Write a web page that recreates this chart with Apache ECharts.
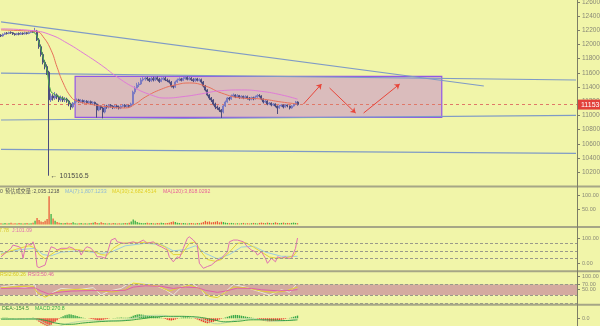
<!DOCTYPE html>
<html><head><meta charset="utf-8">
<script src="https://cdn.jsdelivr.net/npm/echarts@6/dist/echarts.min.js"></script>
<style>html,body{margin:0;padding:0;background:#f1f5a9;}#c{width:600px;height:326px;}</style>
</head><body><div id="c"></div>
<script>
const slotCount = 288;
const categories = Array.from({length: slotCount}, (_, i) => 'T' + i);
// [open, close, low, high]
const candles = [
[121300,121200,121050,121450],[121200,121450,121100,121550],[121450,121600,121350,121700],[121600,121550,121400,121750],
[121550,121700,121450,121800],[121700,121650,121500,121850],[121650,121500,121350,121750],[121500,121400,121250,121600],
[121400,121550,121300,121650],[121550,121450,121300,121700],[121450,121600,121350,121750],[121600,121500,121350,121700],
[121500,121650,121400,121800],[121650,121550,121400,121750],[121550,121700,121450,121850],[121700,121850,121600,121950],
[121850,121800,121650,122000],[121800,121900,121700,122350],[121900,120650,120500,122050],[120650,119700,119400,120900],
[119700,118600,118300,120000],[118600,117500,117200,118900],[117500,116900,116500,117800],[116900,116100,115700,117200],
[116100,112200,101516.5,116300],[112200,112750,111900,113100],[112750,112460,112100,113000],[112460,112900,112200,113300],
[112900,112600,112300,113100],[112600,112200,111900,112800],[112200,112460,111950,112800],[112460,112200,111900,112700],
[112200,112300,111900,112600],[112300,112040,111800,112500],[112040,111620,111300,112200],[111620,111200,110800,111800],
[111200,111760,111000,111900],[111760,112040,111600,112300],[112040,112200,111850,112400],[112200,111950,111800,112350],
[111950,112100,111800,112300],[112100,111900,111700,112250],[111900,112000,111700,112200],[112000,111800,111600,112150],
[111800,111950,111650,112100],[111950,111750,111550,112100],[111750,111850,111500,112000],[111850,111620,111400,111950],
[111620,110770,109700,111700],[110770,111340,110600,111500],[111340,111060,110800,111400],[111060,110490,109600,111200],
[110490,111340,110300,111500],[111340,111200,110950,111500],[111200,111450,111000,111600],[111450,111300,111100,111600],
[111300,111100,110900,111450],[111100,111350,110950,111500],[111350,111200,111000,111500],[111200,111060,110850,111400],
[111060,111300,110900,111450],[111300,111450,111150,111600],[111450,111250,111100,111600],[111250,111400,111100,111550],
[111400,111300,111100,111500],[111300,111620,111200,111800],[111620,113300,111500,113500],[113300,113870,113000,114100],
[113870,114300,113700,114600],[114300,114440,114000,114700],[114440,115000,114300,115300],[115000,115140,114800,115400],
[115140,115280,114900,115550],[115280,115140,114900,115450],[115140,114900,114700,115300],[114900,115200,114750,115450],
[115200,115000,114800,115450],[115000,115300,114850,115550],[115300,115100,114900,115500],[115100,114800,114600,115300],
[114800,115100,114700,115350],[115100,115250,114950,115500],[115250,115000,114850,115450],[115000,114900,114700,115200],
[114900,114700,114500,115050],[114700,114150,113950,114850],[114150,114010,113800,114300],[114010,114720,113900,114900],
[114720,115000,114600,115200],[115000,115150,114850,115350],[115150,114950,114800,115300],[114950,115200,114850,115400],
[115200,115350,115050,115550],[115350,115100,114950,115500],[115100,115250,114950,115450],[115250,115050,114850,115400],
[115050,114900,114700,115250],[114900,115150,114750,115300],[115150,114950,114800,115300],[114950,115050,114800,115250],
[115050,114720,114500,115200],[114720,114150,113950,114850],[114150,113590,113400,114300],[113590,112890,112700,113700],
[112890,112460,112200,113000],[112460,112180,111900,112600],[112180,111620,111400,112300],[111620,111200,110900,111800],
[111200,111060,110800,111400],[111060,110770,110500,111200],[110770,110490,109660,110900],[110490,111340,110300,111500],
[111340,111900,111200,112100],[111900,112460,111800,112600],[112460,112320,112100,112600],[112320,112750,112200,112950],
[112750,112890,112600,113100],[112890,112650,112450,113000],[112650,112800,112500,113000],[112800,112550,112350,112900],
[112550,112700,112400,112850],[112700,112500,112300,112800],[112500,112650,112350,112850],[112650,112450,112250,112800],
[112450,112300,112100,112600],[112300,112500,112150,112650],[112500,112350,112150,112650],[112350,112600,112250,112800],
[112600,112800,112500,113000],[112800,112750,112550,113000],[112750,112320,112150,112850],[112320,111900,111700,112400],
[111900,112040,111750,112200],[112040,111620,111450,112150],[111620,111760,111500,111900],[111760,111480,111300,111850],
[111480,111620,111350,111750],[111620,111340,111150,111700],[111340,111060,110210,111400],[111060,111340,110950,111500],
[111340,111480,111200,111600],[111480,111200,111000,111550],[111200,111480,111100,111600],[111480,111340,111150,111550],
[111340,111060,110850,111400],[111060,111340,110950,111450],[111340,111620,111250,111750],[111620,111900,111500,112050],
[111900,111536,111400,112000]
];
const lastPrice = 111536;
const crashLow = 101516.5;
const crashIndex = 24;
// moving averages, [index, price]
const maGreen = [[16,121750],[17,121600],[18,121200],[20,119300],[22,117200],[23,116400],[24,114300],[25,113300],[27,112900],[30,112500],[33,112200],[35,111400]];
const maRed = [[0,122060],[10,121950],[18,121800],[21,121100],[25,119200],[28,116800],[31,114600],[35,112600],[38,112040],[44,111620],[54,111200],[62,111060],[67,111620],[72,112600],[80,113700],[87,114300],[94,114580],[102,114150],[110,113170],[120,112460],[130,112320],[140,111900],[148,111620]];
const maPink = [[0,122200],[16,121950],[25,121340],[33,120200],[41,118800],[50,117110],[58,115420],[66,114010],[75,112890],[82,112460],[92,112700],[100,113050],[110,113500],[120,113600],[130,113400],[140,112900],[148,112300]];
// trend lines [index, price]
const trendA = [[0,123197],[241,114155]];
const trendB = [[0,115958],[287,115000]];
const trendC = [[0,109366],[287,110028]];
const trendD = [[0,105239],[287,104676]];
const boxCorners = [[36.5,115521],[219.5,109746]];
const arrows = [
  [[151,111620],[159.5,114437]],
  [[163.5,113873],[177,110352]],
  [[180.5,110352],[198.5,114437]]
];
const priceTicks = [102000,104000,106000,108000,110000,112000,114000,116000,118000,120000,122000,124000,126000];
// volume (thousands)
const volumes = [4,3,5,3,4,6,3,4,3,5,4,3,4,5,3,4,6,
12,22,15,10,8,12,18,96,35,20,12,8,
6,5,4,5,6,4,5,7,4,3,4,5,3,4,3,4,5,6,8,5,4,7,5,4,3,4,3,5,4,3,4,3,4,5,4,6,
10,17,12,8,
6,5,4,5,6,4,5,4,3,5,4,6,5,4,5,6,8,
10,8,6,5,4,5,4,3,4,5,4,3,5,4,
6,8,12,9,10,7,8,9,11,7,9,
8,6,5,4,5,4,3,4,3,4,5,3,4,3,4,5,4,3,5,6,5,4,6,5,4,5,7,5,4,5,6,4,5,4,5,6,5,4];
const volTicks = [50,100];
const volCurrent = 2.035;
// KDJ [index, value]
const kdjJ = [[0,26],[2,40],[5,60],[6,73],[9,66],[10,60],[11,20],[12,60],[13,80],[15,73],[16,86],[17,60],[18,-13],[19,-17],[22,-7],[23,20],[24,46],[25,66],[27,60],[28,53],[30,60],[33,60],[34,66],[36,60],[38,46],[39,53],[40,33],[42,60],[43,66],[45,60],[47,40],[48,26],[50,26],[52,20],[53,40],[55,93],[57,100],[58,86],[61,80],[63,80],[66,86],[68,80],[71,93],[73,80],[76,86],[78,73],[80,66],[83,53],[84,26],[86,6],[88,26],[89,20],[91,60],[93,100],[94,106],[96,93],[98,73],[99,0],[101,-20],[103,-13],[105,-7],[108,13],[110,20],[113,46],[114,86],[116,93],[118,93],[121,86],[123,66],[125,53],[127,46],[128,33],[130,46],[132,20],[133,0],[135,20],[137,6],[138,26],[140,20],[142,26],[143,20],[145,20],[147,60],[148,101.09]];
const kdjK = [[0,35],[5,50],[10,62],[14,70],[17,62],[19,35],[22,18],[25,35],[28,52],[33,58],[38,55],[42,50],[46,48],[50,35],[53,32],[56,60],[60,80],[66,82],[72,84],[78,80],[82,65],[86,35],[90,35],[94,80],[97,85],[100,45],[103,15],[107,8],[110,15],[114,45],[118,80],[122,83],[126,65],[130,45],[134,25],[138,20],[142,22],[146,30],[148,52.22]];
const kdjD = [[0,40],[10,55],[17,60],[21,35],[25,30],[30,45],[40,50],[50,40],[55,45],[62,70],[72,80],[80,75],[86,50],[92,55],[97,70],[102,40],[108,18],[114,35],[120,65],[126,68],[132,45],[140,28],[148,27.78]];
const kdjLevels = [80,50,20];
const kdjTicks = [0,100];
// RSI [index, value]
const rsi1 = [[0,60],[6,66],[12,58],[17,70],[18,25],[22,10],[26,40],[30,55],[38,50],[46,58],[50,30],[54,45],[60,55],[66,85],[70,78],[76,70],[82,50],[86,30],[90,60],[95,75],[100,50],[103,15],[107,12],[111,35],[116,70],[122,60],[128,45],[134,30],[140,50],[144,40],[148,75]];
const rsi2 = [[0,58],[8,62],[16,64],[18,40],[22,22],[26,35],[30,48],[40,52],[50,45],[56,42],[62,50],[66,75],[70,72],[78,65],[84,45],[88,55],[94,68],[99,55],[104,25],[108,20],[112,40],[116,60],[122,58],[130,45],[136,40],[142,45],[148,60.26]];
const rsi3 = [[0,55],[10,56],[17,57],[20,45],[24,33],[28,40],[35,45],[45,47],[55,46],[62,48],[66,60],[72,65],[80,63],[86,55],[92,60],[98,58],[102,48],[108,40],[112,45],[118,56],[125,55],[130,50],[138,46],[144,47],[148,50.46]];
const rsiTicks = [30,50,70,100];
// MACD
const macdHist = [40,50,60,50,40,30,20,10,0,-10,-20,-10,0,20,30,40,50,
-50,-200,-350,-500,-600,-700,-800,-800,-650,-500,-350,-200,
-50,100,200,300,350,400,380,330,280,220,160,100,
60,30,0,-30,-60,-100,-150,-200,-220,-200,-150,-100,
-60,-30,0,20,40,50,60,70,60,50,60,80,
150,250,320,380,400,380,350,320,300,280,250,220,180,150,100,60,
-20,-80,-150,-200,-220,-180,-120,-60,
20,60,90,100,90,70,40,10,
-50,-120,-200,-300,-380,-450,-500,-480,-420,-350,-280,-200,
-120,-50,20,80,
150,220,280,320,340,330,300,260,220,180,140,100,70,40,10,
-50,-120,-180,-240,-280,-300,-310,-300,-280,-250,-220,-180,-140,-100,-60,
-10,40,90,150,210,270.8];
const macdDif = [[0,-100],[10,-80],[17,-60],[20,-300],[24,-700],[28,-800],[32,-600],[38,-350],[45,-250],[52,-250],[60,-200],[66,0],[72,250],[80,300],[86,150],[92,200],[98,50],[103,-300],[108,-550],[113,-400],[118,-150],[125,-50],[130,-150],[136,-300],[142,-250],[148,-19]];
const macdDea = [[0,-80],[17,-70],[22,-200],[28,-500],[34,-600],[42,-450],[52,-300],[62,-230],[70,-50],[78,150],[86,200],[94,170],[100,80],[106,-150],[112,-350],[118,-300],[126,-150],[134,-160],[142,-220],[148,-154.5]];
const macdTicks = [0];

const FONT = 'Liberation Sans, Arial, sans-serif';
const CJK = 'Noto Sans CJK SC, sans-serif';
const AX = '#7d7d66';
const LBL = '#8a8a78';
function xax(g){return {type:'category',gridIndex:g,data:categories,show:false,boundaryGap:true};}
function yax(g,min,max,vals,fmt,fs){
  return {type:'value',gridIndex:g,position:'right',min:min,max:max,
    splitLine:{show:false},axisLine:{show:false},
    axisTick:{show:true,length:3,inside:false,customValues:vals,lineStyle:{color:AX,width:1}},
    axisLabel:{show:true,customValues:vals,formatter:fmt,fontSize:fs,color:LBL,margin:5,fontFamily:FONT}};
}
function lineS(data,color,xi,extra){
  return Object.assign({type:'line',xAxisIndex:xi,yAxisIndex:xi,data:data,showSymbol:false,symbol:'none',
    lineStyle:{color:color,width:1},silent:true,z:3},extra||{});
}
const upC='#7b7bc2', downC='#4c4c7e';
const volData = volumes.map((v,i)=>({value:v,itemStyle:{color: candles[i][1]>=candles[i][0] ? '#3cae48' : '#ea5a3a'}}));
const histData = macdHist.map(v=>({value:v,itemStyle:{color: v>=0 ? '#3aa84a' : '#e8382c'}}));
const trendStyle = {color:'#7f9ac6',width:1.2};

const grids = [
  {left:0,right:23,top:0,height:186},
  {left:0,right:23,top:188,height:38},
  {left:0,right:23,top:228,height:42},
  {left:0,right:23,top:272,height:32},
  {left:0,right:23,top:306,height:20}
].map(g=>Object.assign(g,{outerBoundsMode:'none',containLabel:false}));

function t(x,y,text,fill,fs,align,fam){
  return {type:'text',x:x,y:y,silent:true,z:100,style:{text:text,fill:fill,font:(fs||5.2)+'px '+(fam||FONT),textAlign:align||'left',textVerticalAlign:'middle'}};
}
function hl(y,w,c){return {type:'line',silent:true,z:90,shape:{x1:0,y1:y,x2:600,y2:y},style:{stroke:c,lineWidth:w}};}

const option = {
  backgroundColor:'#f1f5a9',
  animation:false,
  grid: grids,
  xAxis: [xax(0),xax(1),xax(2),xax(3),xax(4)],
  yAxis: [
    yax(0,100070,126268,priceTicks,v=>v.toFixed(1),6.5),
    yax(1,-5.44,123.8,volTicks,v=>v.toFixed(2),5.5),
    yax(2,-26.8,141.2,kdjTicks,v=>v.toFixed(2),5.5),
    yax(3,-4.3,117.6,rsiTicks,v=>v.toFixed(2),5.5),
    yax(4,-770,1230,macdTicks,v=>v.toFixed(1),5.5)
  ],
  series: [
    lineS(trendA,null,0,{lineStyle:trendStyle,z:4}),
    lineS(trendB,null,0,{lineStyle:trendStyle,z:4}),
    lineS(trendC,null,0,{lineStyle:trendStyle,z:4}),
    lineS(trendD,null,0,{lineStyle:trendStyle,z:4}),
    {type:'candlestick',xAxisIndex:0,yAxisIndex:0,data:candles,barWidth:1.5,silent:true,z:5,
     itemStyle:{color:upC,color0:downC,borderColor:upC,borderColor0:downC,borderWidth:1},
     markArea:{silent:true,itemStyle:{color:'rgba(185,110,215,0.42)',borderColor:'#9257e6',borderWidth:1.2},
       data:[[{coord:boxCorners[0]},{coord:boxCorners[1]}]]},
     markLine:{silent:true,symbol:'none',animation:false,
       lineStyle:{color:'#e07868',type:[3,3],width:1},
       label:{show:true,position:'end',distance:1,formatter:String(lastPrice),color:'#fff',backgroundColor:'#e2403a',
         fontSize:7,fontFamily:FONT,padding:[2,3,1,3]},
       data:[{yAxis:lastPrice}]},
     markPoint:{silent:true,symbol:'circle',symbolSize:1,itemStyle:{color:'rgba(0,0,0,0)'},
       label:{show:true,position:'right',distance:1,formatter:'← '+crashLow,color:'#4a4a4a',fontSize:7,fontFamily:FONT},
       data:[{coord:[crashIndex,crashLow]}]}
    },
    lineS(maGreen,'#4aa84a',0,{z:6}),
    lineS(maRed,'#e8705a',0,{smooth:true,z:6}),
    lineS(maPink,'#e07ad8',0,{smooth:true,z:6}),
    {type:'line',xAxisIndex:0,yAxisIndex:0,data:[],silent:true,z:7,
     markLine:{silent:true,animation:false,symbolSize:5,
       lineStyle:{color:'#e8463a',type:'solid',width:1},label:{show:false},
       data:arrows.map(a=>[{coord:a[0],symbol:'none'},{coord:a[1],symbol:'arrow'}])}},
    {type:'bar',xAxisIndex:1,yAxisIndex:1,data:volData,barWidth:1.3,silent:true,
     markLine:{silent:true,symbol:'none',lineStyle:{opacity:0},
       label:{show:true,position:'end',distance:1,formatter:'2.04K',color:'#fff',backgroundColor:'#f0a030',fontSize:5.5,fontFamily:FONT,padding:[2,3,1,3]},
       data:[{yAxis:volCurrent}]}},
    lineS(kdjD,'#9ccbe0',2),
    lineS(kdjK,'#e5d43a',2),
    lineS(kdjJ,'#e070b0',2,{
      markLine:{silent:true,symbol:'none',lineStyle:{color:'#9a9a8a',type:[3,2],width:1},label:{show:false},
        data:kdjLevels.map(v=>({yAxis:v}))}}),
    lineS(rsi1,'#e8e8d8',3,{
      markArea:{silent:true,itemStyle:{color:'#d4aaa0'},data:[[{yAxis:30},{yAxis:70}]]},
      markLine:{silent:true,symbol:'none',lineStyle:{color:'#9a9a8a',type:[3,2],width:1},label:{show:false},
        data:[{yAxis:70},{yAxis:30},{yAxis:0}]}}),
    lineS(rsi2,'#e2d232',3),
    lineS(rsi3,'#e060a8',3),
    {type:'bar',xAxisIndex:4,yAxisIndex:4,data:histData,barWidth:1.4,silent:true},
    lineS(macdDif,'#b8d8a8',4,{smooth:true}),
    lineS(macdDea,'#3aa048',4,{smooth:true})
  ],
  graphic: [
    hl(186.5,2,'#a6a686'), hl(227,2,'#a6a686'), hl(271.2,2,'#a6a686'), hl(304.8,2,'#a6a686'),
    {type:'line',silent:true,z:95,shape:{x1:577.5,y1:0,x2:577.5,y2:326},style:{stroke:AX,lineWidth:1}},
    t(0,191.5,'0','#555'),
    t(5,191.5,'预估成交量','#555',5.2,'left',CJK),
    t(32,191.5,':2,035.1218','#555'),
    t(65,191.5,'MA(7):1,807.1233','#8fb8d8'),
    t(112,191.5,'MA(30):2,682.4514','#e2d02a'),
    t(163,191.5,'MA(120):3,818.0292','#e8609a'),
    t(9,230.5,'D:27.78','#d8c830',5.2,'right'),
    t(12,230.5,'J:101.09','#e070b0'),
    t(0,274.5,'RSI2:60.26','#d8c820'),
    t(28,274.5,'RSI3:50.46','#e060a0'),
    t(2,309,'DEA:-154.5','#3a8a3a'),
    t(35,309,'MACD:270.8','#3aa848')
  ]
};
const chart = echarts.init(document.getElementById('c'),null,{renderer:'canvas'});
chart.setOption(option);
</script></body></html>
